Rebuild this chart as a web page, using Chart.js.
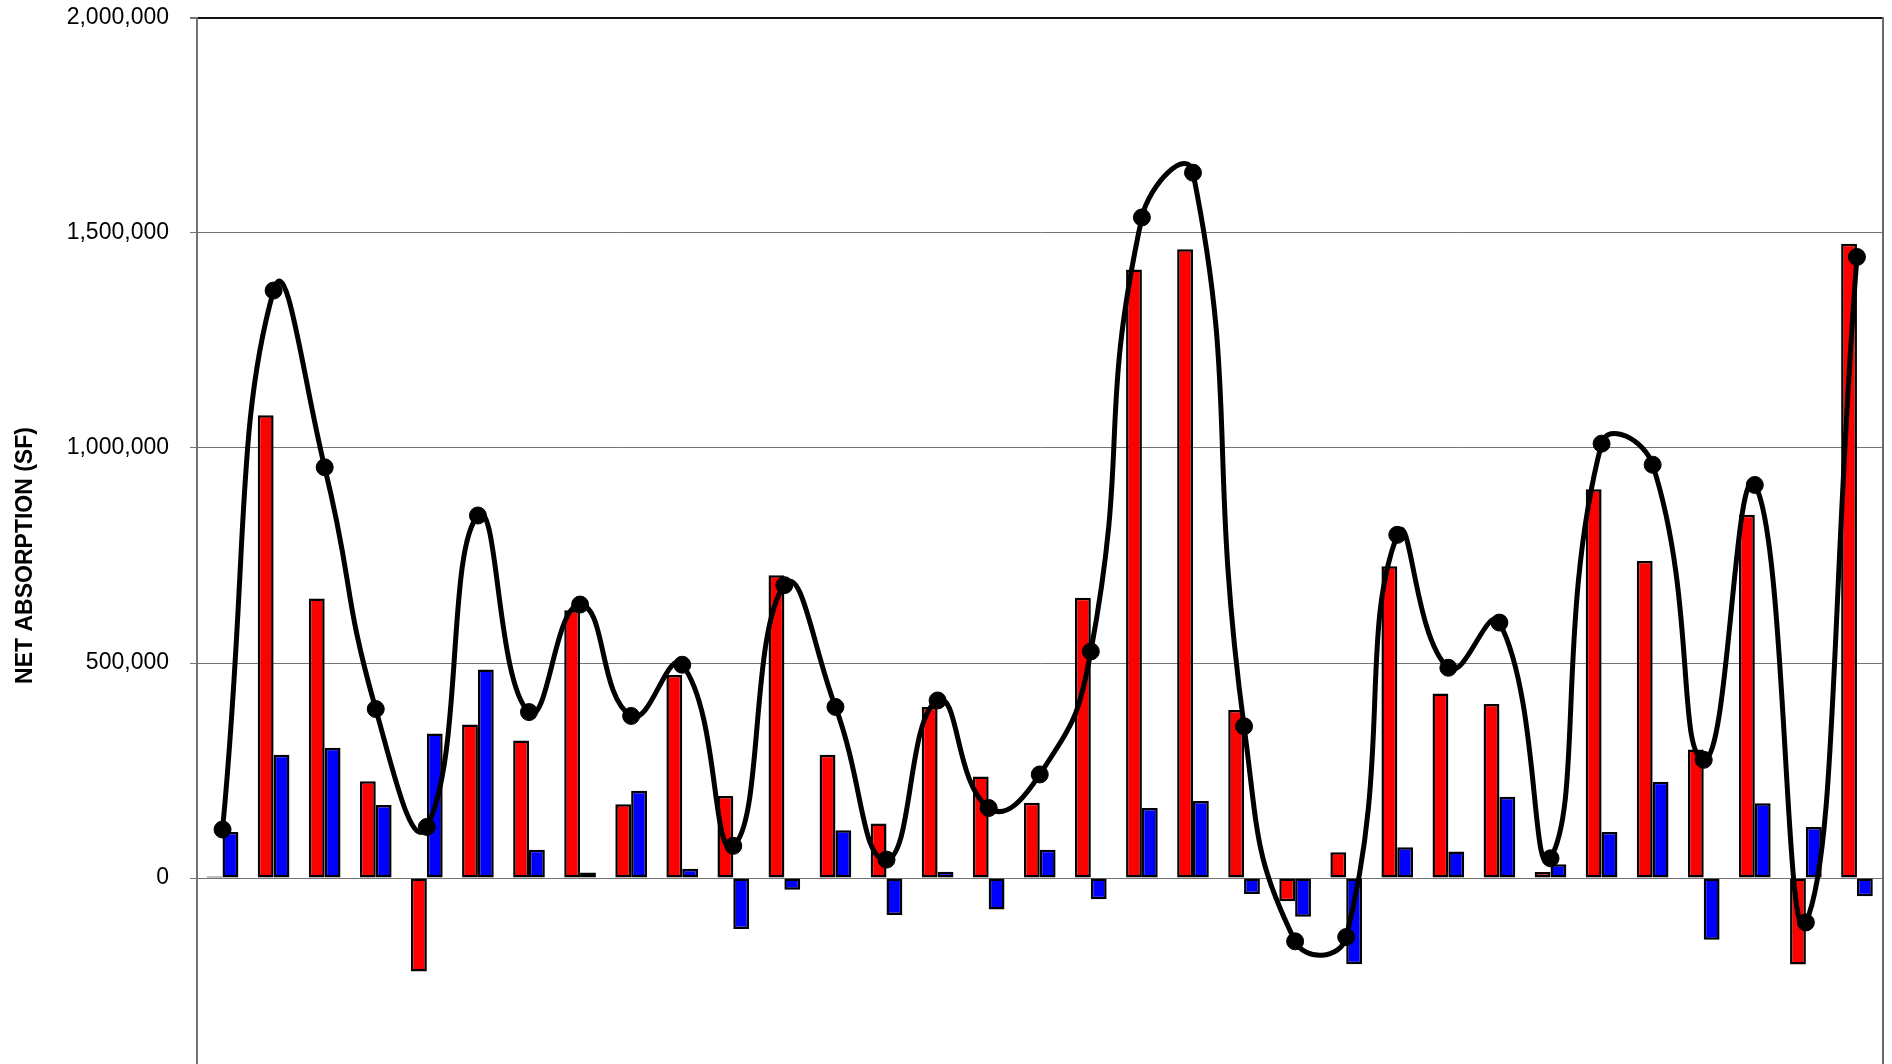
<!DOCTYPE html>
<html>
<head>
<meta charset="utf-8">
<script src="https://cdn.jsdelivr.net/npm/chart.js@4.4.0/dist/chart.umd.min.js"></script>
<style>
    html, body { margin: 0; padding: 0; background: #fff; overflow: hidden; }
    #wrap { position: relative; top: -17px; width: 1892px; height: 1145px; }
</style>
</head>
<body>
<div id="wrap"><canvas id="chart"></canvas></div>
<script>
// periods (x labels are cut off in the picture)
const categories = ['1', '2', '3', '4', '5', '6', '7', '8', '9', '10', '11',
    '12', '13', '14', '15', '16', '17', '18', '19', '20', '21', '22',
    '23', '24', '25', '26', '27', '28', '29', '30', '31', '32', '33'];

// red bars
const redValues = [4000, 1076000, 650000, 225000, -217000, 357000, 320000, 623000, 172000, 472000, 191000,
    704000, 287000, 127000, 398000, 236000, 175000, 652000, 1415000, 1462000, 391000, -54000,
    60000, 725000, 429000, 405000, 14000, 904000, 737000, 299000, 845000, -201000, 1475000];

// blue bars
const blueValues = [107000, 287000, 303000, 170000, 336000, 485000, 66000, 13000, 203000, 22000, -118000,
    -27000, 111000, -86000, 15000, -73000, 66000, -49000, 163000, 179000, -37000, -90000,
    -200000, 72000, 62000, 189000, 32000, 107000, 224000, -143000, 174000, 119000, -42000];

// black smoothed line
const totalValues = [113000, 1366000, 955000, 393000, 119000, 843000, 386000, 636000, 377000, 496000, 75000,
    681000, 398000, 43000, 413000, 163000, 241000, 527000, 1536000, 1640000, 353000, -147000,
    -137000, 798000, 489000, 594000, 46000, 1010000, 961000, 275000, 914000, -103000, 1444000];

const yTicks = [-500000, 0, 500000, 1000000, 1500000, 2000000];

const grey = '#737373';
const font = 'Liberation Sans, Arial, sans-serif';

new Chart(document.getElementById('chart'), {
    type: 'bar',
    data: {
        labels: categories,
        datasets: [
            {
                type: 'line', label: 'Total', data: totalValues, order: 0,
                borderColor: '#000', borderWidth: 5, tension: 0.5, fill: false,
                pointRadius: 8.5, pointBackgroundColor: '#000', pointBorderColor: '#000', pointBorderWidth: 1
            },
            {
                label: 'Red', data: redValues, order: 1,
                backgroundColor: '#ff0000', borderColor: '#000', borderWidth: 2.5, borderSkipped: false,
                categoryPercentage: 0.62, barPercentage: 1
            },
            {
                label: 'Blue', data: blueValues, order: 1,
                backgroundColor: '#0000ff', borderColor: '#000', borderWidth: 2.5, borderSkipped: false,
                categoryPercentage: 0.62, barPercentage: 1
            }
        ]
    },
    options: {
        responsive: true,
        maintainAspectRatio: false,
        animation: false,
        layout: { padding: { top: 0, right: 4, bottom: 0, left: 0 } },
        plugins: { legend: { display: false }, tooltip: { enabled: false } },
        scales: {
            x: { display: false, offset: true },
            y: {
                min: -500000, max: 2000000,
                afterBuildTicks: s => { s.ticks = yTicks.map(v => ({ value: v })); },
                afterFit: s => { s.width = 197; },
                ticks: {
                    color: '#000', padding: 21,
                    font: { family: font, size: 23 },
                    callback: v => v.toLocaleString('en-US')
                },
                grid: {
                    color: c => c.tick && c.tick.value === 2000000 ? '#111' : grey,
                    lineWidth: c => c.tick && c.tick.value === 2000000 ? 2 : 1,
                    tickLength: 7, tickColor: grey
                },
                border: { color: grey, width: 2 },
                title: {
                    display: true, text: 'NET ABSORPTION (SF)', color: '#000',
                    padding: { top: 12, bottom: 0 },
                    font: { family: font, size: 23, weight: 'bold' }
                }
            },
            y2: {
                position: 'right',
                ticks: { display: false },
                grid: { display: false, drawTicks: false },
                border: { display: true, color: '#6a6a6a', width: 2 },
                afterFit: s => { s.width = 0; }
            }
        }
    }
});
</script>
</body>
</html>
